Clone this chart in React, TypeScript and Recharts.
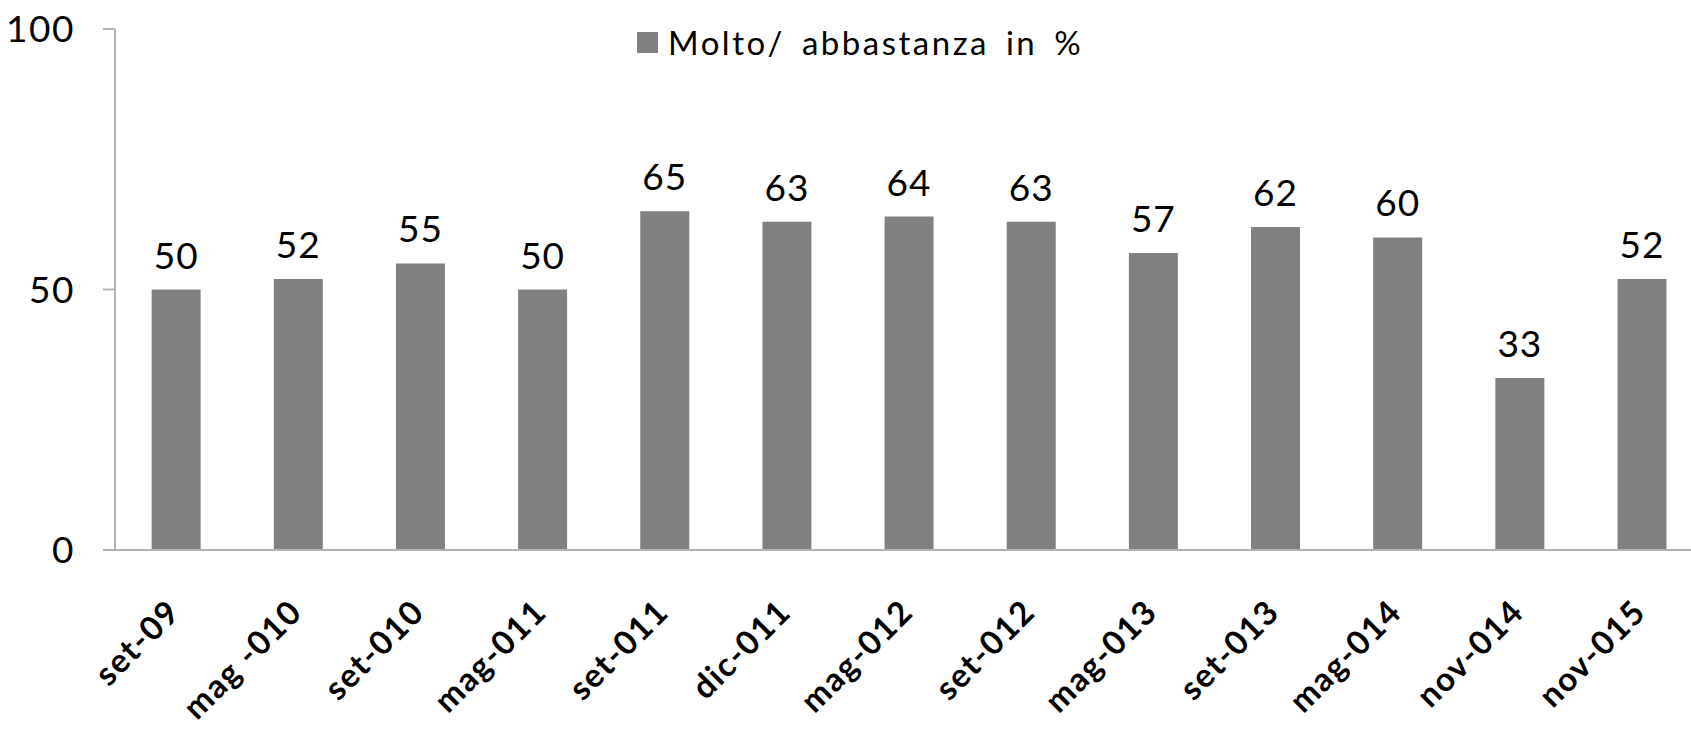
import { BarChart, Bar, XAxis, YAxis, Legend, LabelList } from "recharts";

const categories = [
  "set-09",
  "mag -010",
  "set-010",
  "mag-011",
  "set-011",
  "dic-011",
  "mag-012",
  "set-012",
  "mag-013",
  "set-013",
  "mag-014",
  "nov-014",
  "nov-015",
];
const values = [50, 52, 55, 50, 65, 63, 64, 63, 57, 62, 60, 33, 52];
const yTicks = [0, 50, 100];
const seriesName = "Molto/ abbastanza in %";

const data = categories.map((period, i) => ({ period, value: values[i] }));

const FONT = "Lato, 'DejaVu Sans', sans-serif";

const RotatedTick = ({ x, y, payload }: any) => (
  <text
    x={x + 6}
    y={y + 56}
    transform={`rotate(-45, ${x + 6}, ${y + 56})`}
    textAnchor="end"
    fontFamily={FONT}
    fontWeight="bold"
    fontSize={33}
    letterSpacing={1.5}
    fill="#000"
  >
    {payload.value}
  </text>
);

const LegendContent = () => (
  <div style={{ display: "flex", alignItems: "center", fontFamily: FONT }}>
    <span
      style={{ width: 21, height: 21, background: "#808080", marginRight: 10, display: "inline-block" }}
    />
    <span style={{ fontSize: 33, color: "#000", letterSpacing: 2.5, wordSpacing: 6 }}>{seriesName}</span>
  </div>
);

// the original plot runs a little past the right edge of the picture, so it is clipped
const App = () => {
  return (
    <div style={{ position: "absolute", left: 0, top: 0, width: 1691, height: 731, overflow: "hidden" }}>
      <BarChart
        width={1703}
        height={731}
        data={data}
        margin={{ top: 29, right: 0, left: 0, bottom: 11 }}
        barCategoryGap="30%"
      >
        <XAxis
          dataKey="period"
          interval={0}
          tickLine={false}
          axisLine={{ stroke: "#b3b3b3", strokeWidth: 2 }}
          height={170}
          tick={<RotatedTick />}
        />
        <YAxis
          domain={[0, 100]}
          ticks={yTicks}
          width={115}
          tickSize={12}
          tickMargin={28}
          axisLine={{ stroke: "#b3b3b3", strokeWidth: 2 }}
          tickLine={{ stroke: "#b3b3b3", strokeWidth: 2 }}
          tick={{ fontSize: 37, fill: "#000", fontFamily: FONT, letterSpacing: 1.5 }}
        />
        <Legend
          verticalAlign="middle"
          align="center"
          content={<LegendContent />}
          wrapperStyle={{ top: 22, left: 637, width: "auto" }}
        />
        <Bar dataKey="value" name={seriesName} fill="#808080" isAnimationActive={false}>
          <LabelList
            dataKey="value"
            position="top"
            offset={21}
            fill="#000"
            fontSize={37}
            fontFamily={FONT}
            letterSpacing={1}
          />
        </Bar>
      </BarChart>
    </div>
  );
};

export default App;
